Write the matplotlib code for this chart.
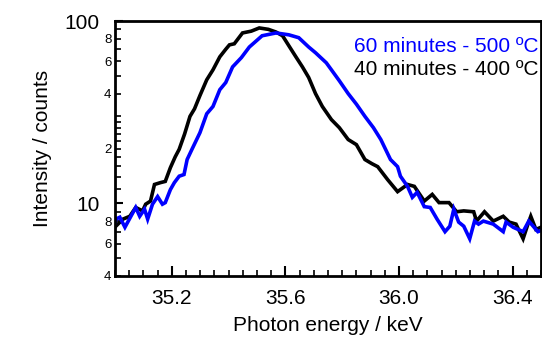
import matplotlib
matplotlib.use("Agg")
import matplotlib.pyplot as plt
from matplotlib.ticker import LogLocator, FixedLocator, MultipleLocator, FuncFormatter
import numpy as np

plt.rcParams['font.family'] = ['Liberation Sans', 'DejaVu Sans']

# 40 minutes - 400 ºC (black)
e_black = [35.000, 35.003, 35.028, 35.052, 35.073, 35.097, 35.108, 35.125, 35.139, 35.160,
           35.177, 35.195, 35.212, 35.226, 35.245, 35.264, 35.280, 35.299, 35.323, 35.345,
           35.369, 35.390, 35.403, 35.420, 35.449, 35.480, 35.508, 35.540, 35.567, 35.590,
           35.615, 35.637, 35.660, 35.682, 35.706, 35.730, 35.762, 35.790, 35.821, 35.850,
           35.880, 35.905, 35.925, 35.960, 35.995, 36.030, 36.054, 36.089, 36.117, 36.141,
           36.176, 36.203, 36.228, 36.263, 36.273, 36.301, 36.332, 36.367, 36.388, 36.412,
           36.437, 36.454, 36.464, 36.482, 36.500]
i_black = [7.4, 7.5, 8.2, 8.5, 9.5, 9.1, 9.9, 10.3, 12.7, 13.0,
           13.2, 15.7, 18.0, 19.8, 24.0, 30.0, 33.0, 39.0, 47.6, 54.0,
           63.6, 70.0, 74.0, 75.0, 86.0, 88.0, 91.6, 90.0, 87.0, 83.0,
           72.0, 63.6, 56.0, 49.0, 40.0, 34.0, 28.8, 26.0, 22.4, 21.0,
           17.4, 16.5, 15.9, 13.5, 11.6, 12.7, 12.4, 10.3, 11.2, 10.1,
           10.1, 9.0, 9.1, 9.0, 8.0, 9.0, 8.0, 8.5, 7.9, 7.7,
           6.4, 7.7, 8.5, 7.2, 7.4]

# 60 minutes - 500 ºC (blue)
e_blue = [35.000, 35.003, 35.017, 35.035, 35.056, 35.073, 35.087, 35.104, 35.115, 35.132,
          35.150, 35.167, 35.177, 35.195, 35.209, 35.226, 35.243, 35.254, 35.271, 35.299,
          35.323, 35.345, 35.369, 35.390, 35.414, 35.445, 35.473, 35.518, 35.567, 35.612,
          35.647, 35.682, 35.706, 35.744, 35.762, 35.790, 35.821, 35.850, 35.880, 35.910,
          35.936, 35.970, 35.995, 36.005, 36.030, 36.047, 36.064, 36.089, 36.110, 36.134,
          36.162, 36.179, 36.193, 36.210, 36.228, 36.249, 36.266, 36.280, 36.297, 36.332,
          36.367, 36.377, 36.402, 36.437, 36.457, 36.489, 36.500]
i_blue = [7.8, 8.2, 8.4, 7.4, 8.5, 9.5, 8.5, 9.3, 8.2, 9.9,
          10.9, 9.9, 10.1, 11.9, 13.0, 14.1, 14.4, 17.4, 19.8, 24.4,
          31.0, 34.0, 42.0, 46.0, 56.0, 63.0, 72.0, 83.0, 86.0, 84.0,
          81.0, 72.0, 67.0, 59.0, 54.0, 47.0, 40.0, 35.0, 30.0, 26.0,
          22.4, 17.4, 15.9, 14.1, 12.4, 10.8, 11.5, 9.6, 9.5, 8.2,
          7.0, 7.5, 9.3, 7.9, 7.5, 6.4, 8.0, 7.7, 8.0, 7.7,
          7.0, 7.9, 7.4, 7.0, 8.0, 7.0, 7.1]

labels = ["60 minutes - 500 \u00baC", "40 minutes - 400 \u00baC"]
colors = ["#0000ff", "#000000"]

W, H = 542, 339
fig = plt.figure(figsize=(W / 100, H / 100), dpi=100)
ax = fig.add_axes([115 / W, 1 - 276 / H, (541 - 115) / W, (276 - 21) / H])

ax.plot(e_black, i_black, color=colors[1], lw=2.6, solid_joinstyle='miter')
ax.plot(e_blue, i_blue, color=colors[0], lw=2.6, solid_joinstyle='miter')

ax.set_yscale('log')
ax.set_xlim(35.0, 36.5)
ax.set_ylim(4, 100)

for s in ax.spines.values():
    s.set_linewidth(2.0)

ax.xaxis.set_major_locator(MultipleLocator(0.4))
ax.xaxis.set_minor_locator(MultipleLocator(0.05))
ax.xaxis.set_major_formatter(FuncFormatter(lambda v, p: f"{v:.1f}"))

ax.yaxis.set_major_locator(FixedLocator([10, 100]))
ax.yaxis.set_major_formatter(FuncFormatter(lambda v, p: f"{int(round(v))}"))
subs = [1.2, 1.4, 1.6, 1.8, 2, 2.2, 2.4, 2.6, 2.8, 3, 4, 5, 6, 7, 8, 9]
ax.yaxis.set_minor_locator(LogLocator(base=10, subs=subs, numticks=20))

def minor_fmt(v, p):
    m = v / 10 ** np.floor(np.log10(v) + 1e-9)
    for d in (2, 4, 6, 8):
        if abs(m - d) < 1e-6:
            return str(d)
    return ""
ax.yaxis.set_minor_formatter(FuncFormatter(minor_fmt))

ax.tick_params(axis='x', which='major', direction='in', length=7, width=1.5,
               labelsize=15, pad=9, top=False)
ax.tick_params(axis='x', which='minor', direction='in', length=4, width=1.2, top=False)
ax.tick_params(axis='y', which='major', direction='in', length=6, width=1.5,
               labelsize=15, pad=11, right=False)
ax.tick_params(axis='y', which='minor', direction='in', length=4.5, width=1.2,
               labelsize=9.5, pad=2.5, right=False)

ax.set_xlabel("Photon energy / keV", fontsize=15, labelpad=6)
ax.set_ylabel("Intensity / counts", fontsize=15, labelpad=9)

fig.text(539 / W, 1 - 46.5 / H, labels[0], color=colors[0], fontsize=15,
         ha='right', va='center')
fig.text(539 / W, 1 - 69.5 / H, labels[1], color=colors[1], fontsize=15,
         ha='right', va='center')

fig.savefig("out.png", dpi=100)
